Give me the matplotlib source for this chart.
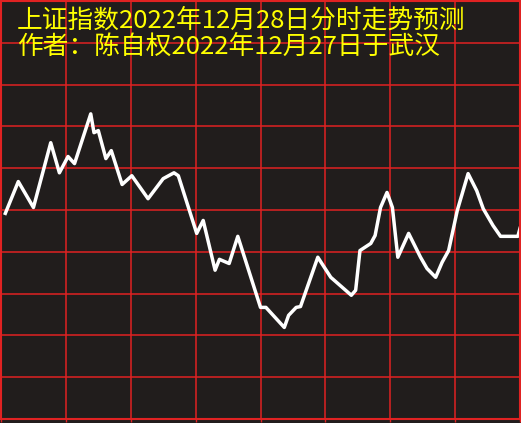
import matplotlib
matplotlib.use("Agg")
import matplotlib.pyplot as plt

plt.rcParams['font.family'] = ['Noto Sans CJK SC', 'DejaVu Sans']

# minutes into the trading session (0-240) and forecast index level
minutes = [2, 8, 15, 23, 27, 31, 34, 41.5, 43, 45, 48.5, 51, 56, 60.5, 68,
           75, 80, 82, 90.5, 93.5, 99, 101, 105.5, 109.5, 120, 122.5, 131, 133,
           136.5, 138.5, 146.5, 152.5, 162, 164, 166, 171, 173, 175.5, 178.5,
           181, 183.5, 188.5, 194, 197, 201, 204, 207, 211, 216, 220, 223,
           227.5, 231, 239, 240]
values = [3049.2, 3056.8, 3050.6, 3066.1, 3058.9, 3062.8, 3061.1, 3073.0,
          3068.5, 3069.0, 3062.3, 3064.2, 3056.1, 3058.2, 3052.7,
          3057.5, 3058.9, 3058.2, 3044.4, 3047.5, 3035.6, 3038.2, 3037.2,
          3043.7, 3026.7, 3026.7, 3021.9, 3024.8,
          3026.7, 3026.9, 3038.7, 3033.9, 3029.6, 3030.8, 3040.3, 3042.0,
          3043.9, 3050.6, 3054.2,
          3050.6, 3038.7, 3044.4, 3038.7, 3036.0, 3033.9, 3037.5, 3040.3,
          3049.9, 3058.7, 3054.6, 3050.3,
          3046.3, 3043.7, 3043.7, 3045.6]

title1 = "上证指数2022年12月28日分时走势预测"
title2 = "作者：陈自权2022年12月27日于武汉"

bg = '#211d1c'
red = '#e02222'

fig = plt.figure(figsize=(5.21, 4.23), dpi=100, facecolor=bg)
ax = fig.add_axes([1 / 521, 4 / 423, 519 / 521, 418 / 423], facecolor=bg)

ax.plot(minutes, values, color='white', linewidth=2.5, solid_joinstyle='round')

ax.set_xlim(0, 240)
ax.set_ylim(3000, 3100)
ax.set_xticks(range(0, 241, 30))
ax.set_yticks(range(3000, 3101, 10))
ax.grid(True, color=red, linewidth=1.1)
ax.set_axisbelow(True)
ax.tick_params(axis='x', colors=red, length=2, width=1, labelbottom=False)
ax.tick_params(axis='y', length=0, labelleft=False)
for s in ax.spines.values():
    s.set_color(red)
    s.set_linewidth(1.5)

fig.text(17 / 521, 1 - 21 / 423, title1, color='#ffff00', fontsize=18.5,
         va='center', ha='left')
fig.text(17 / 521, 1 - 47 / 423, title2, color='#ffff00', fontsize=18.5,
         va='center', ha='left')

fig.savefig('out.png', dpi=100, facecolor=bg)
